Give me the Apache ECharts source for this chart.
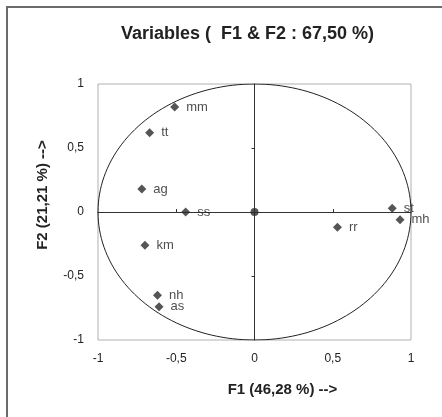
<!DOCTYPE html>
<html>
<head>
<meta charset="utf-8">
<script src="https://cdn.jsdelivr.net/npm/echarts@6/dist/echarts.min.js"></script>
<style>
  html, body { margin: 0; padding: 0; background: #fff; }
  #frame { position: absolute; left: 6px; top: 6px; width: 460px; height: 440px;
           border-left: 2px solid #6a6a6a; border-top: 2px solid #6a6a6a; }
  #main { position: absolute; left: 0; top: 0; width: 442px; height: 417px; }
</style>
</head>
<body>
<div id="frame"></div>
<div id="main"></div>
<script>
  // variables on the correlation circle
  const varNames = ['mm', 'tt', 'ag', 'ss', 'km', 'nh', 'as', 'rr', 'st', 'mh'];
  const f1 = [-0.51, -0.67, -0.72, -0.44, -0.70, -0.62, -0.61, 0.53, 0.88, 0.93];
  const f2 = [0.82, 0.62, 0.18, 0.00, -0.26, -0.65, -0.74, -0.12, 0.03, -0.06];
  const origin = [[0, 0]];

  // unit circle
  const circle = [];
  for (let a = 0; a <= 360; a += 2) {
    const r = a * Math.PI / 180;
    circle.push([Math.cos(r), Math.sin(r)]);
  }

  const fmt = v => String(v).replace('.', ',');
  const font = 'Arial, "Liberation Sans", sans-serif';

  let myChart = echarts.init(document.getElementById('main'), null, { renderer: 'canvas' });

  let option = {
    animation: false,
    title: {
      text: 'Variables (  F1 & F2 : 67,50 %)',
      left: 116,
      top: 20,
      textStyle: { fontSize: 18, fontWeight: 'bold', color: '#222', fontFamily: font }
    },
    grid: {
      left: 98, right: 31, top: 84, bottom: 77,
      show: true, borderColor: '#b0b0b0', borderWidth: 1
    },
    xAxis: [{
      type: 'value', min: -1, max: 1, interval: 0.5,
      position: 'bottom',
      name: 'F1 (46,28 %) -->',
      nameLocation: 'middle', nameGap: 42,
      nameTextStyle: { fontSize: 15, fontWeight: 'bold', color: '#222', fontFamily: font, padding: [0, 0, 0, 56] },
      axisLine: { show: false, onZero: false },
      axisTick: { show: false },
      splitLine: { show: false },
      axisLabel: { formatter: fmt, fontSize: 12, color: '#222', fontFamily: font, margin: 13 }
    }, {
      type: 'value', min: -1, max: 1, interval: 0.5,
      position: 'top',
      axisLine: { show: true, onZero: true, onZeroAxisIndex: 0, lineStyle: { color: '#333', width: 1 } },
      axisTick: { show: true, length: 3, customValues: [-0.5, 0.5], lineStyle: { color: '#333' } },
      axisLabel: { show: false },
      splitLine: { show: false }
    }],
    yAxis: [{
      type: 'value', min: -1, max: 1, interval: 0.5,
      position: 'left',
      name: 'F2 (21,21 %) -->',
      nameLocation: 'middle', nameGap: 48,
      nameTextStyle: { fontSize: 15, fontWeight: 'bold', color: '#222', fontFamily: font, padding: [0, 0, 0, 34] },
      axisLine: { show: false, onZero: false },
      axisTick: { show: false },
      splitLine: { show: false },
      axisLabel: { formatter: fmt, fontSize: 12, color: '#222', fontFamily: font, margin: 14 }
    }, {
      type: 'value', min: -1, max: 1, interval: 0.5,
      position: 'right',
      axisLine: { show: true, onZero: true, onZeroAxisIndex: 0, lineStyle: { color: '#333', width: 1 } },
      axisTick: { show: true, inside: true, length: 3, customValues: [-0.5, 0.5], lineStyle: { color: '#333' } },
      axisLabel: { show: false },
      splitLine: { show: false }
    }],
    series: [{
      type: 'line',
      data: circle,
      xAxisIndex: 0, yAxisIndex: 0,
      showSymbol: false,
      lineStyle: { color: '#222', width: 1 },
      silent: true
    }, {
      type: 'scatter',
      data: varNames.map((n, i) => ({ name: n, value: [f1[i], f2[i]] })),
      xAxisIndex: 0, yAxisIndex: 0,
      symbol: 'diamond', symbolSize: 9,
      itemStyle: { color: '#2a2a2a' },
      label: {
        show: true, position: 'right', distance: 7,
        formatter: p => p.name,
        fontSize: 13, color: '#222', fontFamily: font
      },
      z: 5
    }, {
      type: 'scatter',
      data: origin,
      xAxisIndex: 0, yAxisIndex: 0,
      symbol: 'circle', symbolSize: 8,
      itemStyle: { color: '#2a2a2a' },
      z: 5
    }]
  };

  myChart.setOption(option);
</script>
</body>
</html>
